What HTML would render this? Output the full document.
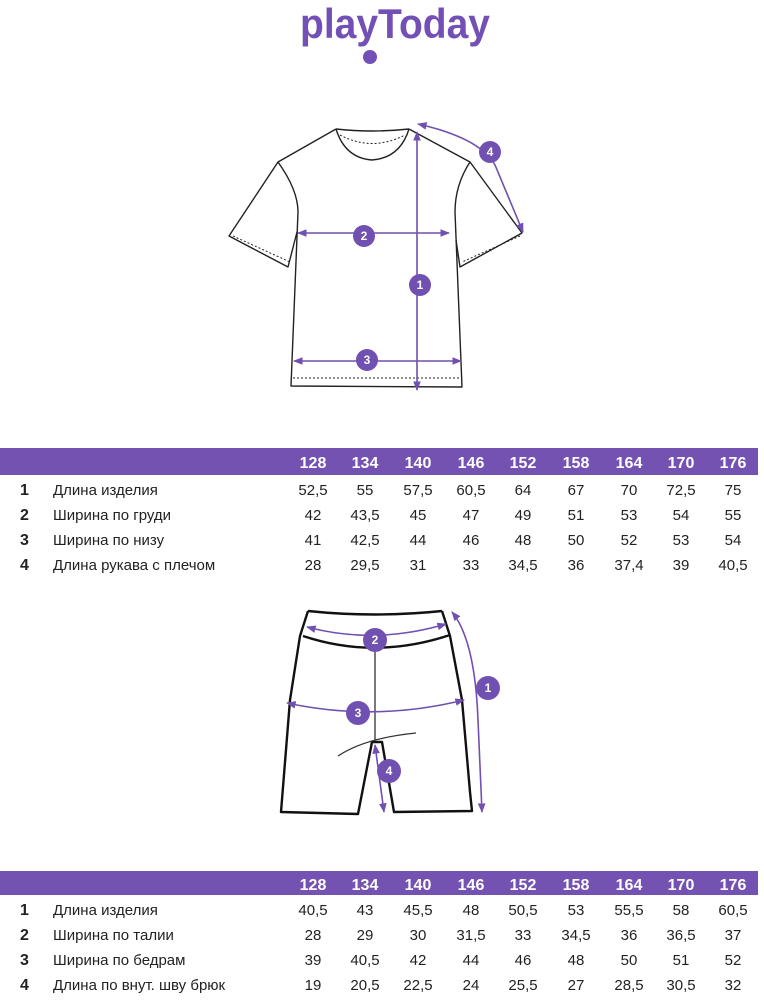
<!DOCTYPE html>
<html><head><meta charset="utf-8"><style>
html,body{margin:0;padding:0;background:#fff;}
svg{display:block}
text{font-family:"Liberation Sans",sans-serif;}
</style></head><body>
<svg width="764" height="1000" viewBox="0 0 764 1000" xmlns="http://www.w3.org/2000/svg">
<defs>
<marker id="a" viewBox="0 0 10 10" refX="9" refY="5" markerWidth="6" markerHeight="6" orient="auto-start-reverse"><path d="M0,1 L10,5 L0,9 z" fill="#7050b0"/></marker>
</defs>
<!-- logo -->
<text x="300" y="38" font-size="42" font-weight="bold" fill="#7350b5" textLength="190" lengthAdjust="spacingAndGlyphs">playToday</text>
<circle cx="370" cy="57" r="7" fill="#7350b5"/>

<!-- T-shirt -->
<g fill="none" stroke="#222" stroke-width="1.4" stroke-linejoin="round">
<path d="M336,129 Q372,133 409,129"/>
<path d="M336,129 Q345,158 372,160 Q400,158 409,129"/>
<path d="M340,135 Q372,152 405,135" stroke-dasharray="2,2" stroke-width="1"/>
<path d="M336,129 L278,162 L229,236 L288,267 L297,232"/>
<path d="M278,162 Q298,190 298,212 L291,386 L462,387 L455,212 Q455,185 470,162"/>
<path d="M409,129 L470,162 L522,233 L460,267 L456,240"/>
<path d="M233,236 L290,262" stroke-dasharray="2,2" stroke-width="1"/>
<path d="M520,236 L462,262" stroke-dasharray="2,2" stroke-width="1"/>
<path d="M293,378 L461,378" stroke-dasharray="2,2" stroke-width="1"/>
</g>
<g stroke="#7050b0" stroke-width="1.6" fill="none">
<line x1="417" y1="132" x2="417" y2="390" marker-start="url(#a)" marker-end="url(#a)"/>
<line x1="298" y1="233" x2="449" y2="233" marker-start="url(#a)" marker-end="url(#a)"/>
<line x1="294" y1="361" x2="461" y2="361" marker-start="url(#a)" marker-end="url(#a)"/>
<path d="M418,124 Q480,138 495,165 L523,232" marker-start="url(#a)" marker-end="url(#a)"/>
</g>
<g fill="#7050b0">
<circle cx="420" cy="285" r="11"/><circle cx="364" cy="236" r="11"/><circle cx="367" cy="360" r="11"/><circle cx="490" cy="152" r="11"/>
</g>
<g fill="#fff" font-size="12" font-weight="bold" text-anchor="middle">
<text x="420" y="289">1</text><text x="364" y="240">2</text><text x="367" y="364">3</text><text x="490" y="156">4</text>
</g>

<!-- Table 1 -->
<rect x="0" y="448" width="758" height="27" fill="#7352b2"/>
<g fill="#fff" font-size="16" font-weight="bold" text-anchor="middle">
<text x="313" y="468">128</text><text x="365" y="468">134</text><text x="418" y="468">140</text><text x="471" y="468">146</text><text x="523" y="468">152</text><text x="576" y="468">158</text><text x="629" y="468">164</text><text x="681" y="468">170</text><text x="733" y="468">176</text>
</g>
<g fill="#222" font-size="15">
<g font-weight="bold" font-size="16"><text x="20" y="495">1</text><text x="20" y="520">2</text><text x="20" y="545">3</text><text x="20" y="570">4</text></g>
<text x="53" y="495">Длина изделия</text><text x="53" y="520">Ширина по груди</text><text x="53" y="545">Ширина по низу</text><text x="53" y="570">Длина рукава с плечом</text>
<g text-anchor="middle">
<text x="313" y="495">52,5</text><text x="365" y="495">55</text><text x="418" y="495">57,5</text><text x="471" y="495">60,5</text><text x="523" y="495">64</text><text x="576" y="495">67</text><text x="629" y="495">70</text><text x="681" y="495">72,5</text><text x="733" y="495">75</text>
<text x="313" y="520">42</text><text x="365" y="520">43,5</text><text x="418" y="520">45</text><text x="471" y="520">47</text><text x="523" y="520">49</text><text x="576" y="520">51</text><text x="629" y="520">53</text><text x="681" y="520">54</text><text x="733" y="520">55</text>
<text x="313" y="545">41</text><text x="365" y="545">42,5</text><text x="418" y="545">44</text><text x="471" y="545">46</text><text x="523" y="545">48</text><text x="576" y="545">50</text><text x="629" y="545">52</text><text x="681" y="545">53</text><text x="733" y="545">54</text>
<text x="313" y="570">28</text><text x="365" y="570">29,5</text><text x="418" y="570">31</text><text x="471" y="570">33</text><text x="523" y="570">34,5</text><text x="576" y="570">36</text><text x="629" y="570">37,4</text><text x="681" y="570">39</text><text x="733" y="570">40,5</text>
</g>
</g>

<!-- Shorts -->
<g fill="none" stroke="#111" stroke-width="2.4" stroke-linejoin="round">
<path d="M308,611 Q375,618 442,611"/>
<path d="M303,636 Q375,660 450,635"/>
<path d="M308,611 L300,636 L290,700 L281,812 L358,814 L372,742 L382,742 L394,812 L472,811 L470,792 L462,700 L450,636 L442,611"/>
</g>
<g fill="none" stroke="#333" stroke-width="1.3">
<line x1="375" y1="652" x2="375" y2="740"/>
<path d="M338,756 Q365,738 416,733"/>
</g>
<g stroke="#7050b0" stroke-width="1.6" fill="none">
<path d="M452,612 Q475,640 478,720 L482,812" marker-start="url(#a)" marker-end="url(#a)"/>
<path d="M307,627 Q375,645 446,624" marker-start="url(#a)" marker-end="url(#a)"/>
<path d="M287,703 Q375,722 464,700" marker-start="url(#a)" marker-end="url(#a)"/>
<line x1="375" y1="745" x2="384" y2="812" marker-start="url(#a)" marker-end="url(#a)"/>
</g>
<g fill="#7050b0">
<circle cx="488" cy="688" r="12"/><circle cx="375" cy="640" r="12"/><circle cx="358" cy="713" r="12"/><circle cx="389" cy="771" r="12"/>
</g>
<g fill="#fff" font-size="12" font-weight="bold" text-anchor="middle">
<text x="488" y="692">1</text><text x="375" y="644">2</text><text x="358" y="717">3</text><text x="389" y="775">4</text>
</g>

<!-- Table 2 -->
<rect x="0" y="871" width="758" height="24" fill="#7352b2"/>
<g fill="#fff" font-size="16" font-weight="bold" text-anchor="middle">
<text x="313" y="890">128</text><text x="365" y="890">134</text><text x="418" y="890">140</text><text x="471" y="890">146</text><text x="523" y="890">152</text><text x="576" y="890">158</text><text x="629" y="890">164</text><text x="681" y="890">170</text><text x="733" y="890">176</text>
</g>
<g fill="#222" font-size="15">
<g font-weight="bold" font-size="16"><text x="20" y="915">1</text><text x="20" y="940">2</text><text x="20" y="965">3</text><text x="20" y="990">4</text></g>
<text x="53" y="915">Длина изделия</text><text x="53" y="940">Ширина по талии</text><text x="53" y="965">Ширина по бедрам</text><text x="53" y="990">Длина по внут. шву брюк</text>
<g text-anchor="middle">
<text x="313" y="915">40,5</text><text x="365" y="915">43</text><text x="418" y="915">45,5</text><text x="471" y="915">48</text><text x="523" y="915">50,5</text><text x="576" y="915">53</text><text x="629" y="915">55,5</text><text x="681" y="915">58</text><text x="733" y="915">60,5</text>
<text x="313" y="940">28</text><text x="365" y="940">29</text><text x="418" y="940">30</text><text x="471" y="940">31,5</text><text x="523" y="940">33</text><text x="576" y="940">34,5</text><text x="629" y="940">36</text><text x="681" y="940">36,5</text><text x="733" y="940">37</text>
<text x="313" y="965">39</text><text x="365" y="965">40,5</text><text x="418" y="965">42</text><text x="471" y="965">44</text><text x="523" y="965">46</text><text x="576" y="965">48</text><text x="629" y="965">50</text><text x="681" y="965">51</text><text x="733" y="965">52</text>
<text x="313" y="990">19</text><text x="365" y="990">20,5</text><text x="418" y="990">22,5</text><text x="471" y="990">24</text><text x="523" y="990">25,5</text><text x="576" y="990">27</text><text x="629" y="990">28,5</text><text x="681" y="990">30,5</text><text x="733" y="990">32</text>
</g>
</g>
</svg>
</body></html>
